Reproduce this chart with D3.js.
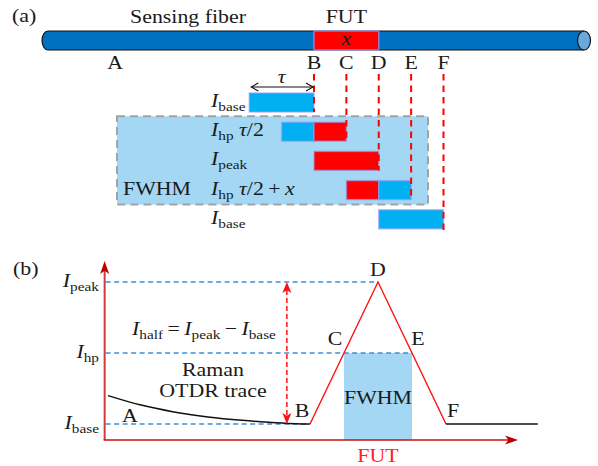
<!DOCTYPE html>
<html><head><meta charset="utf-8">
<script src="https://cdn.jsdelivr.net/npm/d3@7"></script>
<style>html,body{margin:0;padding:0;background:#fff;} svg{display:block;}</style>
</head><body>
<svg id="fig" width="598" height="466"></svg>
<script>
// ---------- panel (a): fiber and pulse windows ----------
// Positions along the fiber in units of the pulse width τ (B = start of the FUT)
const markerLabels = ["B", "C", "D", "E", "F"];
const markerPos = [0, 0.5, 1, 1.5, 2];
const startLabel = "A";
const startPos = -3.07;
const fiberExtent = [-4.2, 4.17];
const futExtent = [0, 1];

// Pulse window for each acquisition row: [from, to, section]
const rowSegments = [
  [[-1, 0, "fiber"]],
  [[-0.5, 0, "fiber"], [0, 0.5, "fut"]],
  [[0, 1, "fut"]],
  [[0.5, 1, "fut"], [1, 1.5, "fiber"]],
  [[1, 2, "fiber"]]
];
const rowLabels = [
  [["I", "i"], ["base", "sub"]],
  [["I", "i"], ["hp", "sub"], ["\u00a0", ""], ["τ", "i"], ["/2", ""]],
  [["I", "i"], ["peak", "sub"]],
  [["I", "i"], ["hp", "sub"], ["\u00a0", ""], ["τ", "i"], ["/2\u2009+\u2009", ""], ["x", "i"]],
  [["I", "i"], ["base", "sub"]]
];
const fwhmRows = [1, 3];

// ---------- panel (b): Raman OTDR trace ----------
const levelLabels = [
  [["I", "i"], ["peak", "sub"]],
  [["I", "i"], ["hp", "sub"]],
  [["I", "i"], ["base", "sub"]]
];
const levelValues = [1, 0.5, 0];
const levelEnds = [1, 1.5, 0];            // where each guide line stops (x)
const traceX = [-2.97, -2.5, -2, -1.5, -1, -0.5, -0.2, 0];
const traceY = [0.2, 0.135, 0.085, 0.05, 0.026, 0.009, 0.002, 0];
const peakX = [0, 0.5, 1, 1.5, 2];
const peakY = [0, 0.5, 1, 0.5, 0];
const tailX = [2, 3.35];
const tailY = [0, 0];
const bLabels = ["A", "B", "C", "D", "E", "F"];
const halfArrowX = -0.34;

const font = "'Liberation Serif', 'Times New Roman', serif";
const fs = 19;
const stretch = 1.15;                     // widen glyphs toward a Computer Modern look
const colors = { fiber: "#00b0f0", fut: "#ff0000" };
const svg = d3.select("#fig");

function mathText(g, x, y, parts, size, anchor) {
  const t = g.append("text").attr("x", x).attr("y", y)
    .attr("font-family", font).attr("font-size", size)
    .attr("text-anchor", anchor || "start").attr("fill", "#1a1a1a");
  let shifted = false;
  parts.forEach(([s, k]) => {
    const ts = t.append("tspan").text(s);
    if (k === "i") ts.attr("font-style", "italic");
    if (k === "sub") {
      ts.attr("font-size", size * 0.7).attr("dy", 4);
      shifted = true;
    } else if (shifted) {
      ts.attr("dy", -4);
      shifted = false;
    }
  });
  return t;
}
function plain(g, x, y, s, size, anchor, fill) {
  return g.append("text").attr("x", x).attr("y", y).text(s)
    .attr("font-family", font).attr("font-size", size)
    .attr("text-anchor", anchor || "middle").attr("fill", fill || "#1a1a1a");
}

// ======== panel (a) ========
const ga = svg.append("g");
const xa = d3.scaleLinear().domain([0, 2]).range([314, 443.5]);
const rowY = d3.scaleLinear().domain([0, 4]).range([102.5, 219.3]);
const barH = 19;
const fy0 = 31, fy1 = 50;

plain(ga, 12, 22, "(a)", fs, "start");
plain(ga, 188, 23, "Sensing fiber", fs);
plain(ga, (xa(futExtent[0]) + xa(futExtent[1])) / 2, 23, "FUT", fs);

// fiber body with rounded near end and open far end
const fxl = xa(fiberExtent[0]), fxr = xa(fiberExtent[1]);
ga.append("path")
  .attr("d", `M${fxr},${fy0} L${fxl + 6},${fy0} A6,${(fy1 - fy0) / 2} 0 0 0 ${fxl + 6},${fy1} L${fxr},${fy1}`)
  .attr("fill", "#0070c0").attr("stroke", "#111").attr("stroke-width", 1.2);
ga.append("rect")
  .attr("x", xa(futExtent[0])).attr("y", fy0)
  .attr("width", xa(futExtent[1]) - xa(futExtent[0])).attr("height", fy1 - fy0)
  .attr("fill", colors.fut).attr("stroke", "#9a9aff").attr("stroke-opacity", 0.7).attr("stroke-width", 1.5);
ga.append("ellipse")
  .attr("cx", fxr).attr("cy", (fy0 + fy1) / 2).attr("rx", 6.5).attr("ry", (fy1 - fy0) / 2)
  .attr("fill", "#6aa8dc").attr("stroke", "#111").attr("stroke-width", 1.2);
mathText(ga, (xa(futExtent[0]) + xa(futExtent[1])) / 2, 45, [["x", "i"]], fs, "middle");

// point labels along the fiber
plain(ga, xa(startPos), 69, startLabel, fs);
markerLabels.forEach((l, i) => plain(ga, xa(markerPos[i]), 69, l, fs));

// FWHM window box
ga.append("rect")
  .attr("x", 117).attr("y", rowY(fwhmRows[0]) - barH / 2 - 6)
  .attr("width", 311).attr("height", rowY(fwhmRows[1]) - rowY(fwhmRows[0]) + barH + 11)
  .attr("fill", "#a3d7f3").attr("stroke", "#a3a3a3").attr("stroke-width", 2)
  .attr("stroke-dasharray", "8,5");
plain(ga, 123, rowY(3) + 4.5, "FWHM", fs, "start");

// pulse windows
rowSegments.forEach((segs, r) => {
  segs.forEach(([a, b, k]) => {
    ga.append("rect")
      .attr("x", xa(a)).attr("y", rowY(r) - barH / 2)
      .attr("width", xa(b) - xa(a)).attr("height", barH)
      .attr("fill", colors[k]).attr("stroke", "#9a9aff").attr("stroke-opacity", 0.6).attr("stroke-width", 1.5);
  });
  mathText(ga, 211, rowY(r) + 4.5, rowLabels[r], fs, "start");
});

// red dashed guides from each marker down to its row
markerPos.forEach((p, i) => {
  ga.append("line")
    .attr("x1", xa(p)).attr("x2", xa(p))
    .attr("y1", 74).attr("y2", rowY(i) + barH / 2 + (i === 4 ? 4 : 0))
    .attr("stroke", "#ff0000").attr("stroke-width", 2).attr("stroke-dasharray", "6.5,5");
});

// pulse width τ arrow
const tauY = 87;
ga.append("line").attr("x1", xa(-1) + 2).attr("x2", xa(0) - 1).attr("y1", tauY).attr("y2", tauY)
  .attr("stroke", "#111").attr("stroke-width", 1.1);
[[xa(-1) + 2, 1], [xa(0) - 1, -1]].forEach(([x, d]) => {
  ga.append("path").attr("d", `M${x + 7 * d},${tauY - 4} L${x},${tauY} L${x + 7 * d},${tauY + 4}`)
    .attr("fill", "none").attr("stroke", "#111").attr("stroke-width", 1.1);
});
mathText(ga, (xa(-1) + xa(0)) / 2, 83, [["τ", "i"]], fs, "middle");

// ======== panel (b) ========
const gb = svg.append("g");
const xb = d3.scaleLinear().domain([0, 2]).range([310, 446]);
const yb = d3.scaleLinear().domain([0, 1]).range([424, 282]);
const axisRed = "#cc1111";

plain(gb, 13, 275, "(b)", fs, "start");

// FWHM region under the peak
gb.append("rect")
  .attr("x", xb(0.5)).attr("y", yb(0.5))
  .attr("width", xb(1.5) - xb(0.5)).attr("height", yb(-0.113) - yb(0.5))
  .attr("fill", "#a3d7f3");
plain(gb, xb(1), 404, "FWHM", fs);

// guide lines for the intensity levels
levelValues.forEach((v, i) => {
  gb.append("line")
    .attr("x1", xb(-3.02) + 1).attr("x2", xb(levelEnds[i]))
    .attr("y1", yb(v)).attr("y2", yb(v))
    .attr("stroke", "#3d8fd6").attr("stroke-width", 1.5).attr("stroke-dasharray", "5,3.5");
  mathText(gb, 99, yb(v) + 4.5, levelLabels[i], fs, "end");
});

// axes
const ax0 = xb(-3.02), ay0 = yb(-0.113);
gb.append("line").attr("x1", ax0).attr("x2", ax0).attr("y1", ay0).attr("y2", yb(1.148) + 6)
  .attr("stroke", "#d23b3b").attr("stroke-width", 2);
gb.append("line").attr("x1", ax0 - 1).attr("x2", xb(3.06) - 6).attr("y1", ay0).attr("y2", ay0)
  .attr("stroke", axisRed).attr("stroke-width", 1.6);
function head(g, x, y, ang, color, len, hw) {
  g.append("path")
    .attr("d", `M0,0 L${-len},${-hw} L${-len * 0.75},0 L${-len},${hw} Z`)
    .attr("transform", `translate(${x},${y}) rotate(${ang})`)
    .attr("fill", color);
}
head(gb, ax0, yb(1.148), -90, "#c00000", 13, 4.5);
head(gb, xb(3.06), ay0, 0, "#c00000", 13, 4.5);
plain(gb, xb(1), 462, "FUT", fs, "middle", "#ff2020");

// trace: fiber decay, FUT peak, tail
gb.append("path").datum(traceX.map((x, i) => [x, traceY[i]]))
  .attr("d", d3.line().x(d => xb(d[0])).y(d => yb(d[1])).curve(d3.curveMonotoneX))
  .attr("fill", "none").attr("stroke", "#111").attr("stroke-width", 1.5);
gb.append("path").datum(peakX.map((x, i) => [x, peakY[i]]))
  .attr("d", d3.line().x(d => xb(d[0])).y(d => yb(d[1]))).attr("fill", "none").attr("stroke", "#ff1010").attr("stroke-width", 1.4);
gb.append("path").datum(tailX.map((x, i) => [x, tailY[i]]))
  .attr("d", d3.line().x(d => xb(d[0])).y(d => yb(d[1]))).attr("fill", "none").attr("stroke", "#111").attr("stroke-width", 1.5);

// I_half double arrow
const hx = xb(halfArrowX);
gb.append("line").attr("x1", hx).attr("x2", hx).attr("y1", yb(1) + 8).attr("y2", yb(0) - 8)
  .attr("stroke", "#ff1010").attr("stroke-width", 1.5).attr("stroke-dasharray", "5,3");
head(gb, hx, yb(1), -90, "#ff1010", 11, 4.5);
head(gb, hx, yb(0), 90, "#ff1010", 11, 4.5);
mathText(gb, 204, 335, [["I", "i"], ["half", "sub"], ["\u2009=\u2009", ""], ["I", "i"], ["peak", "sub"], ["\u2009\u2212\u2009", ""], ["I", "i"], ["base", "sub"]], fs, "middle");

plain(gb, 213, 376, "Raman", fs);
plain(gb, 213, 397, "OTDR trace", fs);

// point labels on the trace
plain(gb, 130, 422, bLabels[0], fs);
plain(gb, xb(0) - 8, 417, bLabels[1], fs);
plain(gb, xb(0.5) - 9, 345, bLabels[2], fs);
plain(gb, xb(1), 276, bLabels[3], fs);
plain(gb, xb(1.5) + 6, 345, bLabels[4], fs);
plain(gb, xb(2) + 7, 417, bLabels[5], fs);

// widen every label slightly
svg.selectAll("text").each(function () {
  const len = this.getComputedTextLength();
  if (len > 0) {
    this.setAttribute("textLength", (len * stretch).toFixed(1));
    this.setAttribute("lengthAdjust", "spacingAndGlyphs");
  }
});
</script>
</body></html>
